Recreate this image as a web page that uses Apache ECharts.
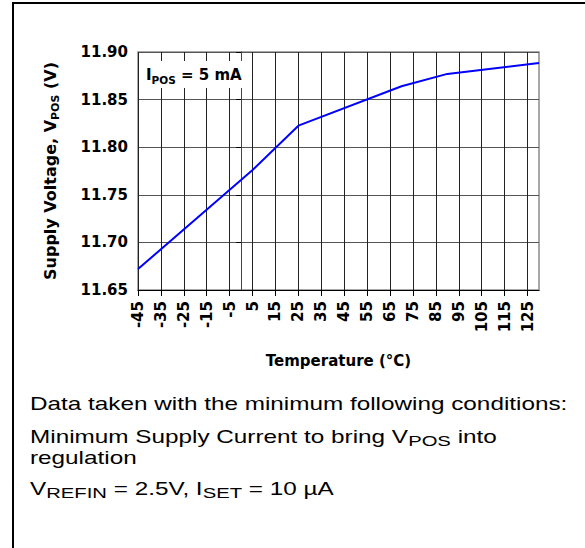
<!DOCTYPE html>
<html>
<head>
<meta charset="utf-8">
<script src="https://cdn.jsdelivr.net/npm/echarts@6/dist/echarts.min.js"></script>
<style>
html,body{margin:0;padding:0;background:#fff;}
#chart{width:585px;height:548px;}
</style>
</head>
<body>
<div id="chart"></div>
<script>
// Data
const temperatures = [-45, 5, 25, 70, 90, 130];
const supplyVoltage = [11.672, 11.776, 11.8226, 11.864, 11.877, 11.8885];
const xTickLabels = [-45, -35, -25, -15, -5, 5, 15, 25, 35, 45, 55, 65, 75, 85, 95, 105, 115, 125];
const yTickLabels = [11.65, 11.70, 11.75, 11.80, 11.85, 11.90];

const AX_FONT = 'DejaVu Sans';
const TXT_FONT = 'Liberation Sans, Arial, sans-serif';

const chart = echarts.init(document.getElementById('chart'), null, {renderer: 'svg'});

const seriesData = temperatures.map((t, i) => [t, supplyVoltage[i]]);

chart.setOption({
  animation: false,
  backgroundColor: '#fff',
  grid: {
    left: 138, top: 52, width: 401, height: 238,
    show: true, borderColor: '#8c8c8c', borderWidth: 1.5, backgroundColor: 'transparent'
  },
  xAxis: {
    type: 'value',
    min: xTickLabels[0],
    max: 130,
    interval: 10,
    name: 'Temperature (°C)',
    nameLocation: 'middle',
    nameGap: 63,
    nameTextStyle: {fontFamily: AX_FONT, fontWeight: 'bold', fontSize: 15, color: '#000'},
    axisLine: {show: true, lineStyle: {color: '#000', width: 1}},
    axisTick: {show: true, length: 6, lineStyle: {color: '#000'}, customValues: xTickLabels},
    axisLabel: {
      show: true, rotate: 90, margin: 11, customValues: xTickLabels,
      fontFamily: AX_FONT, fontWeight: 'bold', fontSize: 15, color: '#000',
      formatter: v => String(v)
    },
    splitLine: {show: true, lineStyle: {color: '#222', width: 1}}
  },
  yAxis: {
    type: 'value',
    min: yTickLabels[0],
    max: yTickLabels[yTickLabels.length - 1],
    interval: 0.05,
    name: '{b|Supply Voltage, V}{s|POS}{b| (V)}',
    nameLocation: 'middle',
    nameGap: 77,
    nameTextStyle: {
      fontFamily: AX_FONT, fontWeight: 'bold', fontSize: 16, color: '#000',
      rich: {
        b: {fontFamily: AX_FONT, fontWeight: 'bold', fontSize: 16, color: '#000', lineHeight: 21, verticalAlign: 'middle'},
        s: {fontFamily: AX_FONT, fontWeight: 'bold', fontSize: 11, color: '#000', lineHeight: 21, verticalAlign: 'bottom'}
      }
    },
    axisLine: {show: true, lineStyle: {color: '#444', width: 1}},
    axisTick: {show: true, length: 5, lineStyle: {color: '#000'}},
    axisLabel: {
      margin: 10, fontFamily: AX_FONT, fontWeight: 'bold', fontSize: 15, color: '#000',
      formatter: v => v.toFixed(2)
    },
    splitLine: {show: true, lineStyle: {color: '#555', width: 1}}
  },
  series: [{
    type: 'line',
    data: seriesData,
    showSymbol: false,
    symbol: 'none',
    lineStyle: {color: '#0000ff', width: 2},
    z: 5
  }],
  graphic: [
    {type: 'line', shape: {x1: 12, y1: 3, x2: 585, y2: 3}, style: {stroke: '#000', lineWidth: 2}},
    {type: 'line', shape: {x1: 13, y1: 2, x2: 13, y2: 548}, style: {stroke: '#000', lineWidth: 2}},
    {
      type: 'text', x: 142, y: 61, z: 10,
      style: {
        text: '{b|I}{s|POS}{b| = 5 mA}',
        backgroundColor: '#fff',
        padding: [4, 4, 3, 4],
        rich: {
          b: {fontFamily: AX_FONT, fontWeight: 'bold', fontSize: 15, fill: '#000', lineHeight: 20, verticalAlign: 'middle'},
          s: {fontFamily: AX_FONT, fontWeight: 'bold', fontSize: 10.5, fill: '#000', lineHeight: 20, verticalAlign: 'bottom'}
        }
      }
    },
    {
      type: 'text', x: 30, y: 404, scaleX: 1.35,
      style: {text: 'Data taken with the minimum following conditions:', fontFamily: TXT_FONT, fontSize: 18, fill: '#000', verticalAlign: 'middle'}
    },
    {
      type: 'text', x: 30, y: 437, scaleX: 1.35,
      style: {
        text: '{n|Minimum Supply Current to bring V}{s|POS}{n| into}', verticalAlign: 'middle',
        rich: {
          n: {fontFamily: TXT_FONT, fontSize: 18, fill: '#000', lineHeight: 22, verticalAlign: 'middle'},
          s: {fontFamily: TXT_FONT, fontSize: 15, fill: '#000', lineHeight: 22, verticalAlign: 'bottom'}
        }
      }
    },
    {
      type: 'text', x: 30, y: 458, scaleX: 1.35,
      style: {text: 'regulation', fontFamily: TXT_FONT, fontSize: 18, fill: '#000', verticalAlign: 'middle'}
    },
    {
      type: 'text', x: 30, y: 489, scaleX: 1.35,
      style: {
        text: '{n|V}{s|REFIN}{n| = 2.5V, I}{s|SET}{n| = 10 µA}', verticalAlign: 'middle',
        rich: {
          n: {fontFamily: TXT_FONT, fontSize: 18, fill: '#000', lineHeight: 22, verticalAlign: 'middle'},
          s: {fontFamily: TXT_FONT, fontSize: 15, fill: '#000', lineHeight: 22, verticalAlign: 'bottom'}
        }
      }
    }
  ]
});
</script>
</body>
</html>
